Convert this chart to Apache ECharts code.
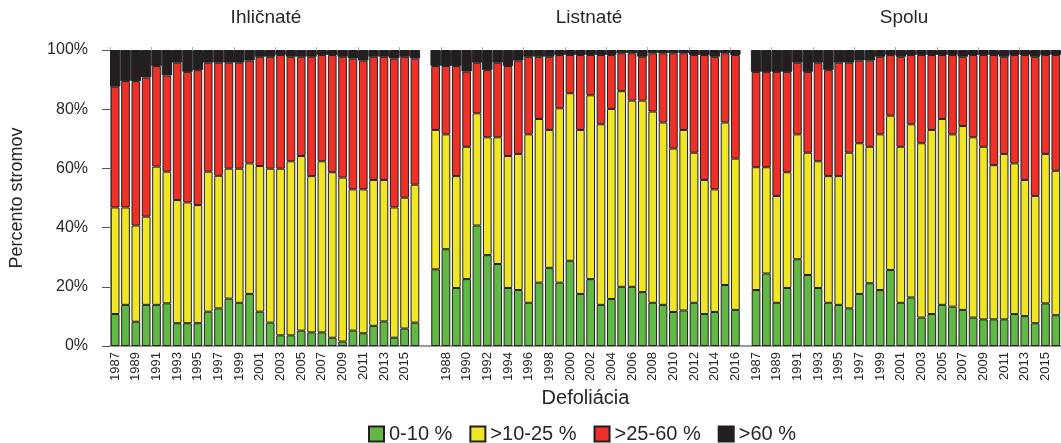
<!DOCTYPE html>
<html>
<head>
<meta charset="utf-8">
<script src="https://cdn.jsdelivr.net/npm/echarts@6/dist/echarts.min.js"></script>
<style>
html,body{margin:0;padding:0;background:#fff;}
#chart{width:1061px;height:443px;}
</style>
</head>
<body>
<div id="chart"></div>
<script>
// Years per panel
const years = ['1987','1988','1989','1990','1991','1992','1993','1994','1995','1996','1997','1998','1999','2000','2001','2002','2003','2004','2005','2006','2007','2008','2009','2010','2011','2012','2013','2014','2015','2016'];
const panelTitles = ['Ihličnaté', 'Listnaté', 'Spolu'];
const seriesNames = ['0-10 %', '>10-25 %', '>25-60 %', '>60 %'];
const yTicks = [0, 20, 40, 60, 80, 100];

// Ihličnaté (conifers) – share of trees in %
const conifG = [10.8,13.9,8.2,13.9,13.9,14.4,7.7,7.7,7.7,11.6,12.7,16.0,14.6,17.6,11.6,7.9,3.6,3.6,5.2,4.6,4.6,2.8,1.5,5.2,4.3,6.8,8.3,2.8,5.9,7.9];
const conifY = [36.0,32.9,32.5,29.8,46.7,44.5,41.6,40.8,39.9,47.3,44.8,43.9,45.3,44.1,49.2,52.0,56.3,58.8,59.0,52.8,57.8,55.9,55.4,47.7,48.6,49.3,47.8,44.0,44.2,46.6];
const conifR = [40.8,42.7,48.8,47.0,34.0,32.5,46.4,44.1,45.6,36.8,38.2,35.8,35.8,34.7,36.9,37.8,38.4,35.3,33.5,40.3,35.9,39.6,40.8,44.2,43.5,41.6,41.6,50.3,47.6,42.6];
const conifB = [12.4,10.5,10.5,9.3,5.4,8.6,4.3,7.4,6.8,4.3,4.3,4.3,4.3,3.6,2.3,2.3,1.7,2.3,2.3,2.3,1.7,1.7,2.3,2.9,3.6,2.3,2.3,2.9,2.3,2.9];

// Listnaté (broadleaves)
const broadG = [25.9,32.7,19.6,22.6,40.7,30.7,27.7,19.6,18.9,14.6,21.4,26.4,21.4,28.8,17.6,22.6,13.9,15.9,20.0,20.0,18.2,14.6,13.9,11.5,12.0,14.6,10.8,11.5,20.6,12.2];
const broadY = [47.1,38.8,37.8,44.7,37.9,39.8,42.8,44.6,46.0,56.9,55.3,46.6,58.9,56.6,55.4,62.1,61.0,64.2,66.1,62.9,64.7,64.6,61.6,55.2,61.0,50.7,45.3,41.4,54.9,51.1];
const broadR = [21.6,23.1,37.2,25.4,17.1,22.7,25.2,30.4,31.5,26.2,21.0,24.7,18.0,12.9,25.3,13.6,23.4,18.2,12.8,16.0,14.8,19.7,23.4,32.2,25.9,33.0,42.2,44.8,23.4,35.0];
const broadB = [5.4,5.4,5.4,7.3,4.3,6.8,4.3,5.4,3.6,2.3,2.3,2.3,1.7,1.7,1.7,1.7,1.7,1.7,1.1,1.1,2.3,1.1,1.1,1.1,1.1,1.7,1.7,2.3,1.1,1.7];

// Spolu (total)
const totalG = [18.9,24.5,14.6,19.6,29.3,24.0,19.6,14.6,13.9,12.7,17.6,21.2,18.9,25.7,14.6,16.4,9.6,10.8,13.9,13.3,12.2,9.6,9.0,9.0,9.0,10.8,10.1,7.7,14.4,10.4];
const totalY = [41.5,35.9,36.1,39.1,42.2,41.3,42.8,42.8,43.5,52.6,50.9,46.1,52.6,52.1,52.7,58.5,58.9,62.2,62.8,58.2,62.1,60.9,58.3,52.1,55.9,50.9,46.0,43.0,50.5,48.8];
const totalR = [32.2,32.2,41.9,33.9,24.2,27.3,33.3,35.8,38.3,30.4,27.9,29.1,26.2,20.5,30.4,23.4,29.8,25.3,21.6,26.8,23.4,27.8,31.0,37.2,32.8,36.6,42.2,47.0,33.4,39.1];
const totalB = [7.4,7.4,7.4,7.4,4.3,7.4,4.3,6.8,4.3,4.3,3.6,3.6,2.3,1.7,2.3,1.7,1.7,1.7,1.7,1.7,2.3,1.7,1.7,1.7,2.3,1.7,1.7,2.3,1.7,1.7];

const colors = ['#60b945', '#f0e625', '#ee3026', '#231f20'];

// One category axis: three panels separated by an empty gap category
const categories = [].concat(years, [''], years, [''], years);
function joinPanels(a, b, c) { return [].concat(a, ['-'], b, ['-'], c); }
const gData = joinPanels(conifG, broadG, totalG);
const yData = joinPanels(conifY, broadY, totalY);
const rData = joinPanels(conifR, broadR, totalR);
const bData = joinPanels(conifB, broadB, totalB);
// invisible base so that the >60 % segment (drawn full category width) sits on the stack top
const baseData = gData.map((g, i) => g === '-' ? '-' : +(g + yData[i] + rData[i]).toFixed(2));

const FONT = '"Liberation Sans", Arial, sans-serif';
const TXT = '#2a2627';
const chart = echarts.init(document.getElementById('chart'), null, {renderer: 'canvas'});

const titleCenters = [266, 589, 904];
const stackStyle = (i) => ({color: colors[i], borderColor: '#231f20', borderWidth: 1});
chart.setOption({
  animation: false,
  textStyle: {fontFamily: FONT},
  title: panelTitles.map((t, i) => ({
    text: t,
    left: titleCenters[i],
    top: 8,
    textAlign: 'center',
    padding: 0,
    textStyle: {fontFamily: FONT, fontSize: 19, fontWeight: 'normal', color: TXT}
  })),
  legend: {
    data: seriesNames,
    top: 424,
    left: 368,
    padding: 0,
    itemWidth: 15,
    itemHeight: 15,
    itemGap: 17,
    icon: 'rect',
    textStyle: {fontFamily: FONT, fontSize: 20, color: TXT}
  },
  grid: {left: 110, top: 50, width: 958, height: 296, containLabel: false},
  xAxis: [{
    type: 'category',
    data: categories,
    name: 'Defoliácia',
    nameLocation: 'middle',
    nameGap: 42,
    nameTextStyle: {fontFamily: FONT, fontSize: 20, color: TXT},
    axisLine: {show: true, lineStyle: {color: '#9a9a9a', width: 2}},
    axisTick: {show: false},
    axisLabel: {interval: 1, rotate: 90, fontSize: 13, color: TXT, margin: 6, fontFamily: FONT}
  }, {
    type: 'category',
    data: categories,
    position: 'top',
    axisLine: {show: false},
    axisTick: {show: true, length: 3, inside: false, lineStyle: {color: '#b0b0b0'}},
    axisLabel: {show: false}
  }],
  yAxis: {
    type: 'value',
    min: yTicks[0],
    max: yTicks[yTicks.length - 1],
    interval: 20,
    name: 'Percento stromov',
    nameLocation: 'middle',
    nameGap: 84,
    nameRotate: 90,
    nameTextStyle: {fontFamily: FONT, fontSize: 18, color: TXT},
    axisLine: {show: true, lineStyle: {color: '#9a9a9a'}},
    axisTick: {show: true, length: 8, lineStyle: {color: '#555'}},
    splitLine: {show: false},
    axisLabel: {formatter: '{value}%', fontSize: 16, color: TXT, margin: 22, fontFamily: FONT}
  },
  series: [
    {name: seriesNames[0], type: 'bar', stack: 'main', data: gData, barCategoryGap: '16%', itemStyle: stackStyle(0), z: 3},
    {name: seriesNames[1], type: 'bar', stack: 'main', data: yData, itemStyle: stackStyle(1), z: 3},
    {name: seriesNames[2], type: 'bar', stack: 'main', data: rData, itemStyle: stackStyle(2), z: 3},
    {name: 'base', type: 'bar', xAxisIndex: 1, stack: 'top', data: baseData, barCategoryGap: '0%',
     itemStyle: {color: 'rgba(0,0,0,0)'}, silent: true, z: 2},
    {name: seriesNames[3], type: 'bar', xAxisIndex: 1, stack: 'top', data: bData,
     itemStyle: {color: colors[3], borderColor: '#231f20', borderWidth: 1}, z: 2}
  ]
});
</script>
</body>
</html>
